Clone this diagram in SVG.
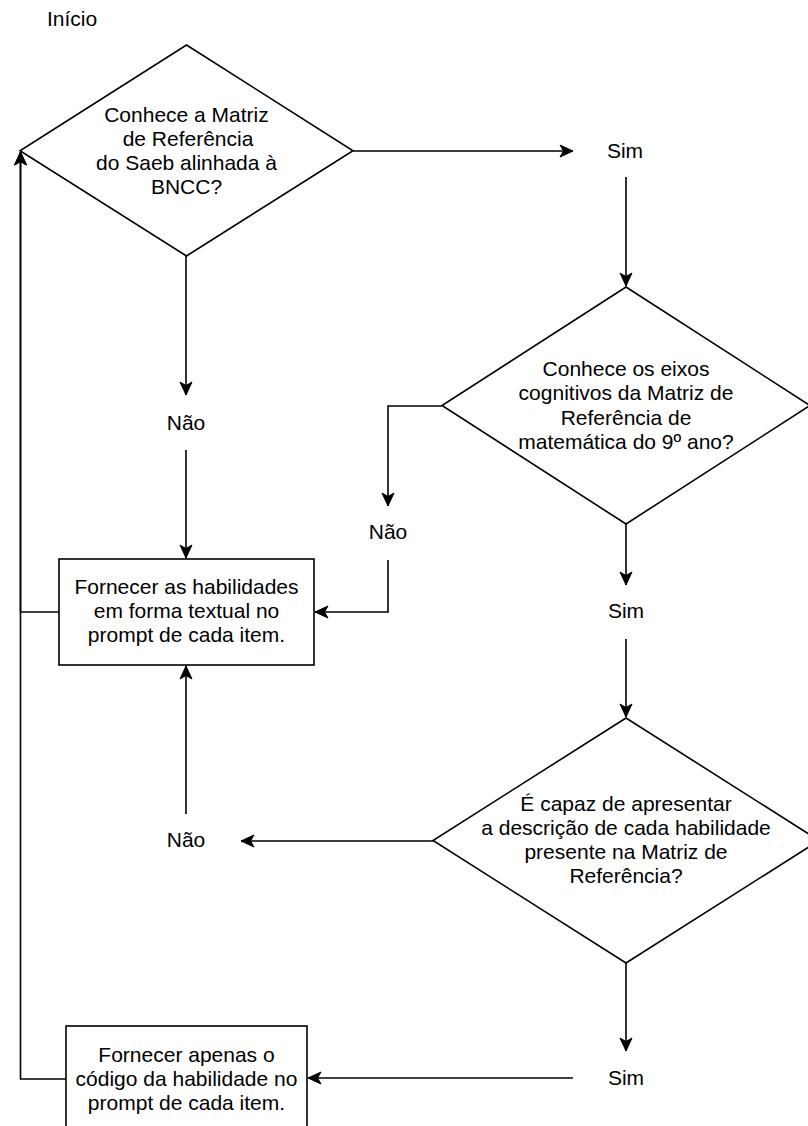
<svg xmlns="http://www.w3.org/2000/svg" width="808" height="1126" viewBox="0 0 808 1126">
<style>
text{font-family:"Liberation Sans",Arial,sans-serif;font-size:21px;fill:#000;text-anchor:middle}
.shape{fill:#fff;stroke:#000;stroke-width:1.6}
.edge{fill:none;stroke:#000;stroke-width:1.6;marker-end:url(#arr)}
</style>
<defs>
<marker id="arr" markerUnits="userSpaceOnUse" markerWidth="16" markerHeight="14" viewBox="-14 -7 16 14" refX="0" refY="0" orient="auto">
<path d="M0,0 L-13,-6 L-9.5,0 L-13,6 Z" fill="#000" stroke="#000" stroke-width="1"/>
</marker>
</defs>
<rect width="808" height="1126" fill="#fff"/>
<g id="inicio"><text x="72" y="26">Início</text></g>
<g id="connectors">
<path class="edge" d="M353,151 L573,151"/>
<path class="edge" d="M626,177 L626,286"/>
<path class="edge" d="M442,406 L388,406 L388,506"/>
<path class="edge" d="M388,560 L388,612 L315,612"/>
<path class="edge" d="M186,256 L186,395"/>
<path class="edge" d="M186,450 L186,558"/>
<path class="edge" d="M626,524 L626,585"/>
<path class="edge" d="M626,639 L626,717"/>
<path class="edge" d="M433,841 L241,841"/>
<path class="edge" d="M186,814 L186,666"/>
<path class="edge" d="M626,963 L626,1051"/>
<path class="edge" d="M573,1078 L308,1078"/>
<path class="edge" d="M59,612 L20.5,612 L20.5,152"/>
<path class="edge" d="M66,1079 L20.5,1079 L20.5,152"/>
</g>
<g id="d1">
<polygon class="shape" points="186.5,45 353,150.7 186.5,256 20,150.7"/>
<text x="186.5" y="121.5">Conhece a Matriz</text>
<text x="188" y="145.5">de Referência</text>
<text x="186.5" y="169.5">do Saeb alinhada à</text>
<text x="186.5" y="193.5">BNCC?</text>
</g>
<g id="sim1"><text x="625" y="158">Sim</text></g>
<g id="d2">
<polygon class="shape" points="626,287 810,405.5 626,524 442,405.5"/>
<text x="626" y="376">Conhece os eixos</text>
<text x="626" y="400">cognitivos da Matriz de</text>
<text x="626" y="425">Referência de</text>
<text x="626" y="449">matemática do 9º ano?</text>
</g>
<g id="nao1"><text x="186" y="430">Não</text></g>
<g id="nao2"><text x="388" y="539">Não</text></g>
<g id="box1">
<rect class="shape" x="59" y="559" width="255" height="106"/>
<text x="186.5" y="594">Fornecer as habilidades</text>
<text x="186.5" y="618">em forma textual no</text>
<text x="186.5" y="642">prompt de cada item.</text>
</g>
<g id="sim2"><text x="626" y="618">Sim</text></g>
<g id="d3">
<polygon class="shape" points="626,718 819,840.5 626,963 433,840.5"/>
<text x="626" y="811">É capaz de apresentar</text>
<text x="626" y="835">a descrição de cada habilidade</text>
<text x="626" y="859">presente na Matriz de</text>
<text x="626" y="883">Referência?</text>
</g>
<g id="nao3"><text x="186" y="847">Não</text></g>
<g id="sim3"><text x="626" y="1085">Sim</text></g>
<g id="box2">
<rect class="shape" x="66" y="1026" width="241" height="106"/>
<text x="186.5" y="1062">Fornecer apenas o</text>
<text x="186.5" y="1086">código da habilidade no</text>
<text x="186.5" y="1110">prompt de cada item.</text>
</g>
</svg>
